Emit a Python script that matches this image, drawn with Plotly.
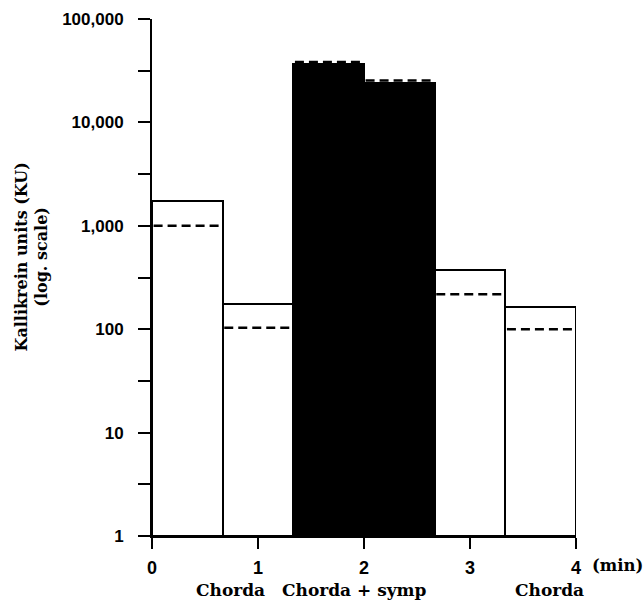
import plotly.graph_objects as go

# Data
bar_start = [0.0, 2/3, 4/3, 2.0, 8/3, 10/3]
bar_width = 2/3
solid_values = [1720, 175, 36800, 23900, 370, 162]
dashed_values = [1000, 103, 38400, 25400, 218, 100]
bar_colors = ["white", "white", "black", "black", "white", "white"]
y_tick_vals = [1, 10, 100, 1000, 10000, 100000]
y_tick_text = ["1", "10", "100", "1,000", "10,000", "100,000"]
y_minor_vals = [3.1623, 31.623, 316.23, 3162.3, 31623]
x_tick_vals = [0, 1, 2, 3, 4]
phase_labels = ["Chorda", "Chorda + symp", "Chorda"]
phase_pos = [0.745, 1.91, 3.75]
y_title_lines = ["Kallikrein units (KU)", "(log. scale)"]

centers = [s + bar_width / 2 for s in bar_start]

fig = go.Figure()
fig.add_trace(go.Bar(
    x=centers, y=solid_values, width=[bar_width] * len(centers), base=1,
    marker=dict(color=bar_colors, line=dict(color="black", width=2)),
    showlegend=False, hoverinfo="skip",
))

dx, dy = [], []
for s, v in zip(bar_start, dashed_values):
    dx += [s + 0.015, s + bar_width - 0.015, None]
    dy += [v, v, None]
fig.add_trace(go.Scatter(
    x=dx, y=dy, mode="lines",
    line=dict(color="black", width=2.5, dash="9px,5px"),
    showlegend=False, hoverinfo="skip",
))

sans = "Liberation Sans"
serif = "DejaVu Serif"

fig.update_layout(
    width=643, height=600,
    margin=dict(l=152, r=67, t=19, b=64),
    paper_bgcolor="white", plot_bgcolor="white",
    bargap=0,
    xaxis=dict(
        range=[0, 4], tickvals=x_tick_vals, ticktext=[str(v) for v in x_tick_vals],
        showgrid=False, zeroline=False, showline=True, linecolor="black", linewidth=2,
        ticks="outside", ticklen=11, tickwidth=2, tickcolor="black", automargin=False,
        ticklabelstandoff=3,
        tickfont=dict(family=sans, size=18, color="black", weight="bold"),
    ),
    yaxis=dict(
        type="log", range=[0, 5], tickvals=y_tick_vals, ticktext=y_tick_text,
        showgrid=False, zeroline=False, showline=True, linecolor="black", linewidth=2,
        ticks="outside", ticklen=12, tickwidth=2, tickcolor="black", automargin=False,
        ticklabelstandoff=11,
        tickfont=dict(family=sans, size=17, color="black", weight="bold"),
        minor=dict(tickvals=y_minor_vals, ticks="outside", ticklen=12, tickwidth=2,
                   tickcolor="black", showgrid=False),
    ),
)

fig.add_annotation(x=0, y=0.5, xref="paper", yref="paper", xanchor="center", yanchor="middle",
                   xshift=-121, yshift=20, textangle=-90,
                   text="<br>".join("<b>" + t + "</b>" for t in y_title_lines),
                   showarrow=False, font=dict(family=serif, size=16, color="black"))

for lab, p in zip(phase_labels, phase_pos):
    fig.add_annotation(x=p, y=0, xref="x", yref="paper", yanchor="middle", yshift=-54,
                       text="<b>" + lab + "</b>", showarrow=False,
                       font=dict(family=serif, size=17, color="black"))
fig.add_annotation(x=4, y=0, xref="x", yref="paper", xanchor="left", yanchor="middle",
                   yshift=-29, xshift=14, text="<b>(min)</b>", showarrow=False,
                   font=dict(family=serif, size=16.5, color="black"))

fig.write_html("out.html", config={"displayModeBar": False},
               post_script="document.body.style.margin='0';")
